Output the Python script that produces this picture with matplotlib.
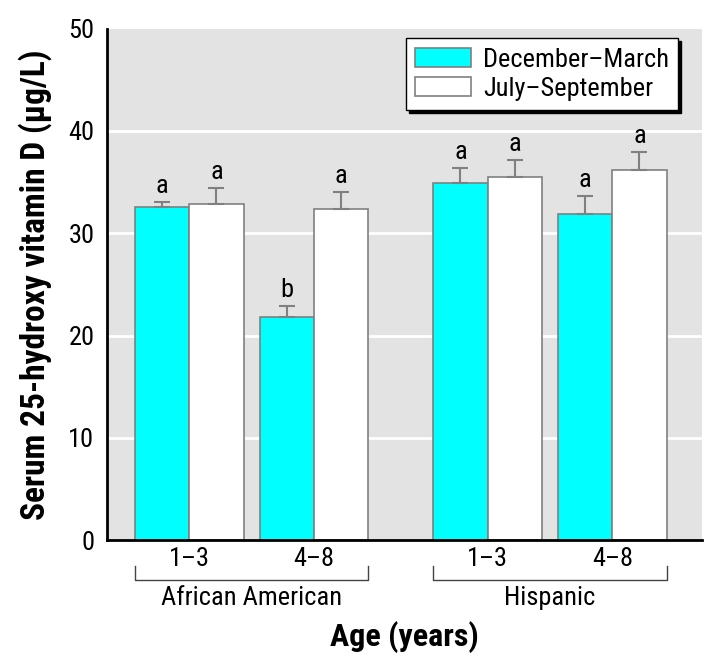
import numpy as np
import matplotlib
matplotlib.use("Agg")
import matplotlib.pyplot as plt
import matplotlib.transforms as mtransforms

plt.rcParams['font.family'] = ['Roboto Condensed', 'Liberation Sans Narrow',
                               'DejaVu Sans Condensed', 'Roboto', 'DejaVu Sans']

# data
ages = ["1\u20133", "4\u20138", "1\u20133", "4\u20138"]
groups = ["African American", "Hispanic"]
winter = [32.6, 21.8, 34.9, 31.9]          # December-March
winter_err = [0.5, 1.1, 1.5, 1.7]
summer = [32.9, 32.4, 35.5, 36.2]          # July-September
summer_err = [1.5, 1.6, 1.7, 1.7]
winter_sig = ["a", "b", "a", "a"]
summer_sig = ["a", "a", "a", "a"]

centers = np.array([0, 2.3, 5.5, 7.8])
w = 1.0

fig = plt.figure(figsize=(7.22, 6.67), dpi=100)
ax = fig.add_axes([0.148, 0.19, 0.824, 0.767])
ax.set_facecolor("#e3e3e3")
ax.set_xlim(-1.52, 9.45)
ax.set_ylim(0, 50)
for g in [10, 20, 30, 40]:
    ax.axhline(g, color="white", lw=2, zorder=0.5)

err_kw = dict(ecolor="#808080", elinewidth=1.5, capsize=6, capthick=1.5)
ax.bar(centers - w/2, winter, w, color="#00ffff", edgecolor="#808080", lw=1.2,
       yerr=[np.zeros(4), winter_err], error_kw=err_kw, label="December\u2013March", zorder=2)
ax.bar(centers + w/2, summer, w, color="white", edgecolor="#808080", lw=1.2,
       yerr=[np.zeros(4), summer_err], error_kw=err_kw, label="July\u2013September", zorder=2)

for i in range(4):
    ax.text(centers[i] - w/2, winter[i] + winter_err[i] + 0.4, winter_sig[i],
            ha="center", va="bottom", fontsize=19)
    ax.text(centers[i] + w/2, summer[i] + summer_err[i] + 0.4, summer_sig[i],
            ha="center", va="bottom", fontsize=19)

for s in ["top", "right"]:
    ax.spines[s].set_visible(False)
ax.spines["left"].set_linewidth(2)
ax.spines["bottom"].set_linewidth(2)

ax.set_yticks([0, 10, 20, 30, 40, 50])
ax.tick_params(axis="y", length=0, pad=9, labelsize=19)
ax.set_xticks(centers)
ax.set_xticklabels(ages)
ax.tick_params(axis="x", length=0, pad=5, labelsize=19)

# group brackets
trans = mtransforms.blended_transform_factory(ax.transData, ax.transAxes)
for k, name in enumerate(groups):
    x0 = centers[2*k] - w
    x1 = centers[2*k + 1] + w
    ax.plot([x0, x0, x1, x1], [-0.051, -0.078, -0.078, -0.051], color="#444444",
            lw=1, transform=trans, clip_on=False)
    ax.text((x0 + x1) / 2, -0.090, name, transform=trans, ha="center", va="top",
            fontsize=19)

ax.set_xlabel("Age (years)", fontsize=23, fontweight="bold", labelpad=36)
ax.set_ylabel("Serum 25-hydroxy vitamin D (\u03bcg/L)", fontsize=24,
              fontweight="bold", labelpad=12)

leg = ax.legend(loc="upper right", bbox_to_anchor=(0.960, 0.981), borderaxespad=0,
                fontsize=19, fancybox=False, shadow={"color": "black", "alpha": 1},
                edgecolor="black", framealpha=1, borderpad=0.35,
                handlelength=2.1, handleheight=0.7, labelspacing=0.2, handletextpad=0.45)
leg.get_frame().set_linewidth(1)

fig.savefig("out.png", dpi=100)
